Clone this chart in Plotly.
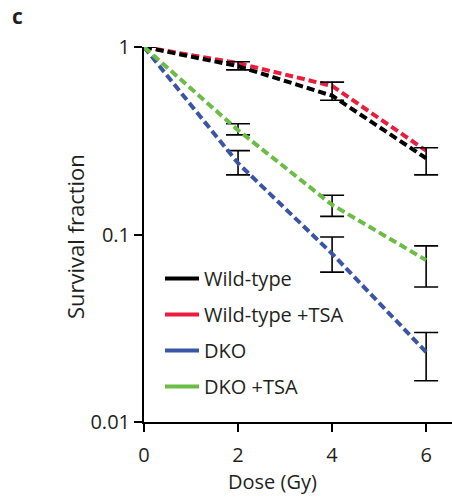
import plotly.graph_objects as go

dose = [0, 2, 4, 6]
wt = [1.0, 0.79, 0.55, 0.255]
wt_hi = [1.0, 0.835, 0.65, 0.29]
wt_lo = [1.0, 0.755, 0.52, 0.208]
wt_tsa = [1.0, 0.82, 0.62, 0.28]
dko = [1.0, 0.24, 0.079, 0.0236]
dko_hi = [1.0, 0.28, 0.097, 0.030]
dko_lo = [1.0, 0.208, 0.063, 0.0166]
dko_tsa = [1.0, 0.36, 0.144, 0.073]
dko_tsa_hi = [1.0, 0.39, 0.162, 0.087]
dko_tsa_lo = [1.0, 0.34, 0.125, 0.0525]

names = ["Wild-type", "Wild-type +TSA", "DKO", "DKO +TSA"]
colors = ["#000000", "#ec1c3a", "#3b55a5", "#6cbd45"]

FONT = "Open Sans, Liberation Sans, sans-serif"
DASH = "8px,4px"
W, H = 452, 499
L, T, B = 144, 47, 77
PW, PH = W - L, H - T - B


def px_x(p):
    return (p - L) / PW


def px_y(p):
    return (H - B - p) / PH


def err(vals, hi, lo):
    return dict(type="data", symmetric=False,
                array=[h - v for v, h in zip(vals, hi)],
                arrayminus=[v - l for v, l in zip(vals, lo)],
                color="black", thickness=1.6, width=12)


fig = go.Figure()
fig.add_trace(go.Scatter(x=dose, y=wt_tsa, mode="lines", line=dict(color=colors[1], width=4, dash=DASH),
                         showlegend=False, cliponaxis=False))
fig.add_trace(go.Scatter(x=dose, y=wt, mode="lines", line=dict(color=colors[0], width=4, dash=DASH),
                         error_y=err(wt, wt_hi, wt_lo), showlegend=False, cliponaxis=False))
fig.add_trace(go.Scatter(x=dose, y=dko, mode="lines", line=dict(color=colors[2], width=4, dash=DASH),
                         error_y=err(dko, dko_hi, dko_lo), showlegend=False, cliponaxis=False))
fig.add_trace(go.Scatter(x=dose, y=dko_tsa, mode="lines", line=dict(color=colors[3], width=4, dash=DASH),
                         error_y=err(dko_tsa, dko_tsa_hi, dko_tsa_lo), showlegend=False, cliponaxis=False))
for i, (n, c) in enumerate(zip(names, colors)):
    fig.add_trace(go.Scatter(x=[None], y=[None], mode="lines", name=n,
                             line=dict(color=c, width=4), legendgroup=str(i)))

fig.update_layout(
    width=W, height=H,
    margin=dict(l=L, r=0, t=T, b=B),
    plot_bgcolor="white", paper_bgcolor="white",
    font=dict(family=FONT, size=20, color="#231f20"),
    showlegend=True,
    legend=dict(x=px_x(160), y=px_y(259), xanchor="left", yanchor="top",
                bgcolor="rgba(0,0,0,0)", font=dict(size=20, family=FONT),
                tracegroupgap=7, itemwidth=34),
    xaxis=dict(range=[0, 6.55], showgrid=False, zeroline=False,
               showline=True, linecolor="black", linewidth=2,
               ticks="outside", ticklen=8, tickwidth=2, tickcolor="black",
               tickvals=[0, 2, 4, 6], tickfont=dict(size=20), ticklabelstandoff=6),
    yaxis=dict(type="log", range=[-2, 0], showgrid=False, zeroline=False,
               showline=True, linecolor="black", linewidth=2,
               ticks="outside", ticklen=8, tickwidth=2, tickcolor="black",
               tickvals=[0.01, 0.1, 1], ticktext=["0.01", "0.1", "1"],
               tickfont=dict(size=20)),
    annotations=[
        dict(text="<b>c</b>", xref="paper", yref="paper", x=px_x(18), y=px_y(16),
             xanchor="center", yanchor="middle", showarrow=False,
             font=dict(size=21, family=FONT, color="#231f20")),
        dict(text="Survival fraction", xref="paper", yref="paper", x=px_x(75), y=px_y(237),
             xanchor="center", yanchor="middle",
             textangle=-90, showarrow=False, font=dict(size=22, family=FONT)),
        dict(text="Dose (Gy)", xref="paper", yref="paper", x=px_x(272), y=px_y(481),
             xanchor="center", yanchor="middle",
             showarrow=False, font=dict(size=20, family=FONT)),
    ],
)

fig.write_html("out.html", config={"displayModeBar": False},
               post_script="document.body.style.margin='0px';")
